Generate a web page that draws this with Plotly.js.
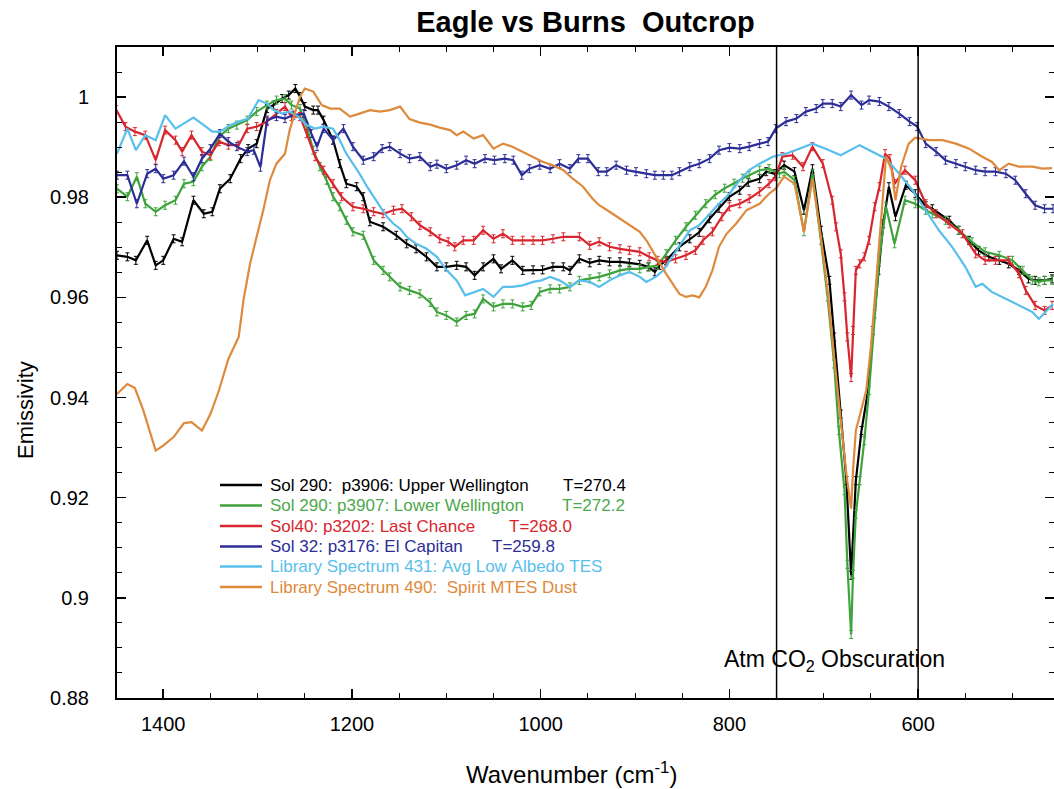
<!DOCTYPE html>
<html>
<head>
<meta charset="utf-8">
<script src="https://cdn.plot.ly/plotly-3.0.1.min.js"></script>
<style>html,body{margin:0;padding:0;background:#fff;}#chart{width:1054px;height:789px;}</style>
</head>
<body>
<div id="chart"></div>
<script>
// ---- Data (wavenumber cm^-1, emissivity) ----
const upperWnum = [1449,1438,1429,1417,1408,1400,1389,1380,1368,1357,1348,1340,1329,1318,1310,1301,1290,1283,1274,1267,1260,1255,1250,1241,1236,1230,1220,1213,1206,1195,1188,1181,1167,1153,1142,1132,1121,1110,1100,1089,1079,1070,1061,1050,1042,1030,1019,1008,998,987,976,969,959,948,938,927,916,906,895,886,879,874,867,853,842,832,821,811,800,789,780,768,761,752,742,731,721,712,703,694,689,682,676,671,666,660,653,648,642,637,631,624,613,603,592,585,567,557,546,536,525,514,504,493,483,476,466,458];
const upperEmis = [0.9684,0.9681,0.9674,0.9714,0.9664,0.9674,0.9717,0.9711,0.9794,0.9767,0.9771,0.9817,0.9837,0.9877,0.9897,0.9907,0.9977,0.9984,0.9997,1.0004,1.0017,1.0001,0.9981,0.9974,0.9974,0.9954,0.9914,0.9867,0.9827,0.9821,0.9801,0.9751,0.9741,0.9724,0.9707,0.9697,0.9681,0.9661,0.9661,0.9664,0.9661,0.9644,0.9661,0.9677,0.9657,0.9674,0.9654,0.9655,0.9655,0.9661,0.9661,0.9654,0.9677,0.9669,0.9674,0.9671,0.9671,0.9669,0.9666,0.9661,0.9651,0.9664,0.9674,0.9701,0.9717,0.9730,0.9757,0.9778,0.9801,0.9814,0.9830,0.9837,0.9851,0.9847,0.9864,0.9851,0.9774,0.9857,0.9734,0.9634,0.9521,0.9367,0.9234,0.9045,0.9234,0.9334,0.9414,0.9534,0.9654,0.9747,0.9821,0.9761,0.9824,0.9807,0.9783,0.9777,0.9754,0.9734,0.9714,0.9694,0.9681,0.9674,0.9667,0.9654,0.9637,0.9634,0.9634,0.9637];

const lowerWnum = [1449,1438,1428,1419,1408,1398,1387,1378,1368,1359,1350,1341,1331,1322,1311,1301,1290,1280,1271,1264,1255,1248,1241,1234,1227,1220,1213,1206,1199,1188,1177,1167,1160,1149,1139,1128,1117,1110,1100,1089,1079,1070,1061,1050,1040,1030,1019,1010,1001,990,980,969,959,948,938,927,916,906,895,885,876,867,857,846,836,825,815,805,795,786,779,768,758,747,742,731,721,712,703,696,689,684,678,675,671,669,666,662,657,652,646,641,634,625,614,603,592,585,571,557,543,529,514,500,489,479,472,466,458];
const lowerEmis = [0.9817,0.9801,0.9841,0.9787,0.9771,0.9784,0.9794,0.9827,0.9831,0.9861,0.9881,0.9921,0.9937,0.9944,0.9954,0.9971,0.9984,0.9994,0.9997,0.9984,0.9977,0.9941,0.9894,0.9861,0.9834,0.9801,0.9781,0.9754,0.9731,0.9724,0.9674,0.9654,0.9641,0.9621,0.9614,0.9607,0.9590,0.9571,0.9564,0.9551,0.9564,0.9567,0.9597,0.9581,0.9587,0.9587,0.9581,0.9584,0.9611,0.9617,0.9617,0.9621,0.9634,0.9637,0.9641,0.9647,0.9654,0.9657,0.9657,0.9661,0.9664,0.9687,0.9714,0.9741,0.9764,0.9787,0.9805,0.9818,0.9828,0.9838,0.9844,0.9854,0.9857,0.9847,0.9851,0.9834,0.9731,0.9847,0.9714,0.9601,0.9467,0.9334,0.9214,0.9067,0.8927,0.9047,0.9167,0.9234,0.9314,0.9414,0.9567,0.9681,0.9781,0.9707,0.9794,0.9787,0.9774,0.9767,0.9754,0.9734,0.9711,0.9691,0.9684,0.9674,0.9654,0.9634,0.9631,0.9634,0.9634];

const lastChanceWnum = [1450,1440,1430,1419,1408,1398,1387,1380,1370,1359,1350,1341,1331,1320,1311,1301,1290,1280,1271,1264,1255,1248,1239,1230,1220,1211,1199,1188,1177,1167,1156,1147,1137,1128,1117,1107,1098,1091,1082,1071,1061,1050,1040,1030,1019,1008,998,987,976,959,948,938,927,916,906,895,885,876,867,857,846,836,828,818,808,800,789,779,768,758,751,744,733,722,712,701,691,687,682,678,675,671,669,666,662,657,652,646,641,635,630,625,614,603,592,581,567,553,539,529,518,504,493,486,476,466,458];
const lastChanceEmis = [0.9975,0.9941,0.9931,0.9924,0.9874,0.9934,0.9914,0.9891,0.9924,0.9891,0.9884,0.9911,0.9904,0.9904,0.9937,0.9941,0.9951,0.9967,0.9981,0.9961,0.9961,0.9927,0.9881,0.9854,0.9827,0.9801,0.9781,0.9777,0.9771,0.9767,0.9774,0.9777,0.9761,0.9744,0.9731,0.9717,0.9711,0.9701,0.9714,0.9714,0.9734,0.9717,0.9727,0.9714,0.9714,0.9714,0.9714,0.9717,0.9721,0.9721,0.9704,0.9711,0.9701,0.9697,0.9694,0.9691,0.9681,0.9674,0.9671,0.9677,0.9684,0.9694,0.9714,0.9731,0.9761,0.9781,0.9787,0.9797,0.9811,0.9827,0.9841,0.9881,0.9884,0.9861,0.9901,0.9867,0.9794,0.9741,0.9687,0.9601,0.9521,0.9440,0.9534,0.9654,0.9667,0.9681,0.9714,0.9781,0.9821,0.9887,0.9877,0.9827,0.9854,0.9834,0.9787,0.9767,0.9747,0.9727,0.9687,0.9674,0.9674,0.9674,0.9647,0.9614,0.9584,0.9574,0.9584];

const elCapitanWnum = [1449,1438,1428,1417,1408,1400,1389,1378,1368,1359,1350,1340,1331,1322,1311,1304,1297,1290,1280,1271,1262,1251,1243,1237,1230,1220,1209,1199,1188,1177,1168,1160,1149,1139,1128,1117,1110,1100,1089,1079,1070,1059,1049,1038,1029,1020,1012,1001,990,980,969,960,950,939,930,920,909,899,888,879,870,861,853,842,832,821,811,800,789,779,768,759,751,740,729,719,708,701,691,682,671,660,652,641,631,620,609,601,592,581,571,560,550,539,529,518,507,497,486,476,466,457];
const elCapitanEmis = [0.9844,0.9844,0.9787,0.9847,0.9857,0.9837,0.9844,0.9872,0.9841,0.9877,0.9897,0.9927,0.9911,0.9901,0.9891,0.9894,0.9860,0.9954,0.9961,0.9957,0.9964,0.9967,0.9927,0.9901,0.9937,0.9914,0.9937,0.9901,0.9874,0.9881,0.9897,0.9901,0.9887,0.9877,0.9881,0.9861,0.9866,0.9857,0.9864,0.9874,0.9867,0.9877,0.9874,0.9877,0.9874,0.9844,0.9857,0.9864,0.9857,0.9867,0.9857,0.9877,0.9877,0.9851,0.9851,0.9864,0.9854,0.9851,0.9847,0.9844,0.9844,0.9844,0.9851,0.9861,0.9867,0.9877,0.9894,0.9899,0.9897,0.9901,0.9907,0.9911,0.9937,0.9951,0.9957,0.9971,0.9977,0.9987,0.9987,0.9981,1.0004,0.9984,0.9994,0.9991,0.9981,0.9967,0.9951,0.9941,0.9907,0.9891,0.9874,0.9867,0.9861,0.9854,0.9851,0.9851,0.9847,0.9834,0.9807,0.9784,0.9777,0.9777];

const lowAlbedoWnum = [1449,1438,1429,1419,1408,1398,1387,1378,1368,1357,1348,1340,1329,1320,1310,1299,1290,1283,1274,1266,1257,1248,1239,1230,1220,1213,1206,1199,1192,1184,1177,1170,1163,1156,1149,1142,1132,1121,1110,1100,1089,1080,1070,1061,1050,1040,1030,1019,1008,999,990,980,969,959,948,938,927,916,906,895,888,878,870,863,853,842,832,821,811,800,789,779,768,754,740,726,712,698,682,662,648,634,620,606,592,578,564,550,539,532,522,507,493,479,472,457];
const lowAlbedoEmis = [0.9887,0.9937,0.9894,0.9924,0.9914,0.9964,0.9937,0.9947,0.9959,0.9944,0.9931,0.9931,0.9944,0.9951,0.9957,0.9994,0.9987,0.9974,0.9967,0.9971,0.9961,0.9944,0.9937,0.9941,0.9937,0.9914,0.9887,0.9867,0.9847,0.9821,0.9801,0.9781,0.9761,0.9747,0.9737,0.9721,0.9707,0.9697,0.9681,0.9655,0.9634,0.9604,0.9611,0.9617,0.9601,0.9621,0.9621,0.9624,0.9631,0.9634,0.9641,0.9634,0.9621,0.9634,0.9631,0.9621,0.9634,0.9644,0.9651,0.9641,0.9631,0.9641,0.9654,0.9674,0.9701,0.9734,0.9744,0.9767,0.9787,0.9807,0.9834,0.9854,0.9867,0.9881,0.9887,0.9897,0.9907,0.9897,0.9884,0.9904,0.9891,0.9877,0.9847,0.9814,0.9774,0.9734,0.9701,0.9661,0.9621,0.9627,0.9611,0.9597,0.9584,0.9571,0.9557,0.9587];

const dustWnum = [1449,1438,1430,1421,1408,1400,1389,1378,1370,1359,1350,1341,1331,1320,1315,1308,1301,1294,1287,1280,1271,1266,1260,1255,1250,1241,1232,1223,1213,1202,1192,1181,1170,1160,1149,1139,1128,1117,1107,1096,1089,1082,1071,1061,1050,1040,1030,1019,1008,998,987,976,966,955,945,938,927,916,906,895,888,881,874,867,860,853,846,839,832,825,818,811,803,793,782,768,758,751,742,731,721,712,703,696,689,682,676,671,669,666,660,655,650,644,639,634,628,624,618,610,603,588,574,560,546,532,522,514,504,493,479,468,458];
const dustEmis = [0.9407,0.9427,0.9419,0.9374,0.9294,0.9304,0.9321,0.9349,0.9351,0.9334,0.9367,0.9414,0.9477,0.9521,0.9594,0.9667,0.9721,0.9774,0.9834,0.9867,0.9887,0.9934,0.9971,1.0001,1.0017,1.0011,0.9984,0.9977,0.9977,0.9961,0.9967,0.9974,0.9971,0.9974,0.9981,0.9956,0.9949,0.9945,0.9939,0.9934,0.9924,0.9931,0.9917,0.9924,0.9897,0.9907,0.9901,0.9891,0.9881,0.9871,0.9864,0.9854,0.9837,0.9821,0.9797,0.9784,0.9771,0.9757,0.9744,0.9731,0.9714,0.9691,0.9667,0.9647,0.9627,0.9607,0.9601,0.9604,0.9600,0.9621,0.9654,0.9701,0.9727,0.9747,0.9774,0.9787,0.9807,0.9817,0.9841,0.9827,0.9731,0.9837,0.9721,0.9614,0.9481,0.9347,0.9247,0.9178,0.9254,0.9334,0.9381,0.9414,0.9501,0.9634,0.9761,0.9881,0.9854,0.9794,0.9861,0.9907,0.9919,0.9914,0.9914,0.9907,0.9897,0.9881,0.9871,0.9854,0.9867,0.9861,0.9861,0.9857,0.9858];

const seriesNames = [
  'Sol 290:  p3906: Upper Wellington',
  'Sol 290: p3907: Lower Wellington',
  'Sol40: p3202: Last Chance',
  'Sol 32: p3176: El Capitan',
  'Library Spectrum 431: Avg Low Albedo TES',
  'Library Spectrum 490:  Spirit MTES Dust'
];
const seriesTemps = ['T=270.4', 'T=272.2', 'T=268.0', 'T=259.8', '', ''];
const obscurationBounds = [750, 600];
const errorSize = 0.0008;

// ---- Styles / layout positions ----
const FONT = 'Liberation Sans, Arial, Helvetica, sans-serif';
const colors = ['#000000', '#3fa33c', '#d8262e', '#2c2d96', '#58bfec', '#de8a3c'];
const textColors = ['#000000', '#4ea84c', '#d8262e', '#2c2d96', '#58bfec', '#de8a3c'];
// plot area in px: left 117, right 1054, top 47, bottom 698
const px2paperX = px => (px - 117) / 937;
const px2paperY = py => (698 - py) / 651;
const legendRowsPx = [485, 505.5, 526, 546.5, 566.5, 587];
const legendTempPx = [561, 560, 507, 490, 0, 0];
const legendLinePx = [220, 262];
const legendTextPx = 268;

const xs = [upperWnum, lowerWnum, lastChanceWnum, elCapitanWnum, lowAlbedoWnum, dustWnum];
const ys = [upperEmis, lowerEmis, lastChanceEmis, elCapitanEmis, lowAlbedoEmis, dustEmis];
const hasErr = [true, true, true, true, false, false];

const traces = xs.map((x, i) => {
  const t = {
    x: x, y: ys[i], type: 'scatter', mode: 'lines', name: seriesNames[i], showlegend: false,
    line: {color: colors[i], width: 2.2},
  };
  if (hasErr[i]) {
    t.error_y = {type: 'constant', value: errorSize, color: colors[i], thickness: 1, width: 2};
  }
  return t;
});

const annotations = [];
const shapes = obscurationBounds.map(w => ({type: 'line', xref: 'x', yref: 'paper', x0: w, x1: w, y0: 0, y1: 1, line: {color: '#000', width: 1.5}}));

seriesNames.forEach((nm, i) => {
  const yp = px2paperY(legendRowsPx[i]);
  shapes.push({type: 'line', xref: 'paper', yref: 'paper', x0: px2paperX(legendLinePx[0]), x1: px2paperX(legendLinePx[1]), y0: yp, y1: yp, line: {color: colors[i], width: 2.5}});
  annotations.push({xref: 'paper', yref: 'paper', x: px2paperX(legendTextPx), y: yp, xanchor: 'left', yanchor: 'middle', showarrow: false,
    text: nm.replace(/ /g, '\u00A0'), font: {family: FONT, size: 17, color: textColors[i]}});
  if (seriesTemps[i]) {
    annotations.push({xref: 'paper', yref: 'paper', x: px2paperX(legendTempPx[i]), y: yp, xanchor: 'left', yanchor: 'middle', showarrow: false,
      text: seriesTemps[i], font: {family: FONT, size: 17, color: textColors[i]}});
  }
});

annotations.push({
  x: 689, y: 0.8874, xref: 'x', yref: 'y', xanchor: 'center', yanchor: 'middle', showarrow: false,
  text: 'Atm CO<sub>2</sub> Obscuration',
  font: {family: FONT, size: 23, color: '#000'}
});
annotations.push({
  xref: 'paper', yref: 'paper', x: px2paperX(571), y: px2paperY(773), xanchor: 'center', yanchor: 'middle', showarrow: false,
  text: 'Wavenumber (cm<sup>-1</sup>)', font: {family: FONT, size: 24, color: '#000'}
});
annotations.push({
  xref: 'paper', yref: 'paper', x: px2paperX(26), y: px2paperY(410), xanchor: 'center', yanchor: 'middle', showarrow: false, textangle: -90,
  text: 'Emissivity', font: {family: FONT, size: 22, color: '#000'}
});

const axisFont = {family: FONT, size: 20, color: '#000'};

const layout = {
  width: 1054, height: 789,
  margin: {l: 117, r: 0, t: 47, b: 91},
  paper_bgcolor: '#fff', plot_bgcolor: '#fff',
  title: {text: '<b>Eagle vs Burns  Outcrop</b>', font: {family: FONT, size: 29, color: '#000'}, x: 0.5, xref: 'paper', y: 0.972, yanchor: 'middle'},
  showlegend: false,
  xaxis: {
    range: [1449, 456], autorange: false,
    tickvals: [1400, 1200, 1000, 800, 600], ticktext: ['1400', '1200', '1000', '800', '600'],
    ticks: 'inside', ticklen: 9, tickwidth: 1.5, tickcolor: '#000',
    minor: {dtick: 50, tick0: 0, ticks: 'inside', ticklen: 5, tickwidth: 1, tickcolor: '#000'},
    showline: true, linecolor: '#000', linewidth: 2, mirror: 'ticks',
    showgrid: false, zeroline: false,
    tickfont: axisFont, ticklabelstandoff: 7
  },
  yaxis: {
    range: [0.88, 1.01], autorange: false,
    tickvals: [0.88, 0.9, 0.92, 0.94, 0.96, 0.98, 1.0], ticktext: ['0.88', '0.9', '0.92', '0.94', '0.96', '0.98', '1'],
    ticks: 'inside', ticklen: 9, tickwidth: 1.5, tickcolor: '#000',
    minor: {dtick: 0.005, tick0: 0, ticks: 'inside', ticklen: 5, tickwidth: 1, tickcolor: '#000'},
    showline: true, linecolor: '#000', linewidth: 2, mirror: 'ticks',
    showgrid: false, zeroline: false,
    tickfont: axisFont, ticklabelstandoff: 22
  },
  shapes: shapes,
  annotations: annotations
};

Plotly.newPlot('chart', traces, layout, {displayModeBar: false, staticPlot: true});
</script>
</body>
</html>
